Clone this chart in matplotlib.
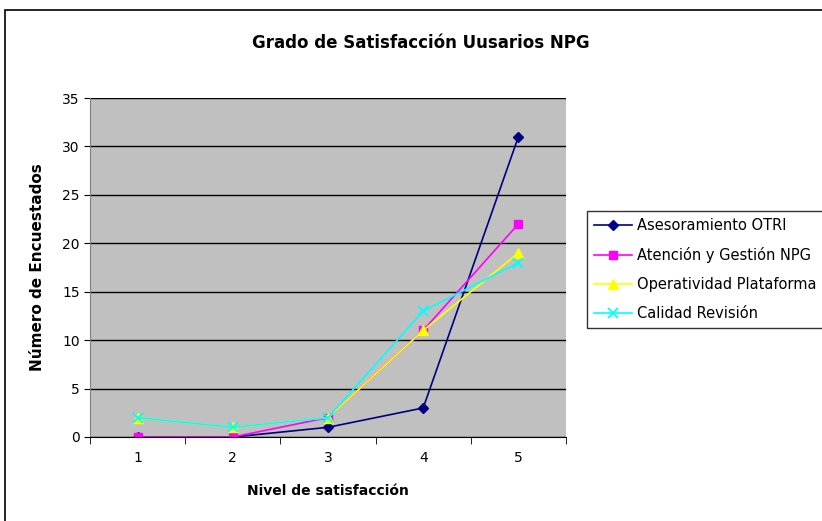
import numpy as np
import matplotlib.pyplot as plt
from matplotlib.patches import Rectangle

# data
niveles = [1, 2, 3, 4, 5]
asesoramiento = [0, 0, 1, 3, 31]
atencion = [0, 0, 2, 11, 22]
operatividad = [2, 1, 2, 11, 19]
calidad = [2, 1, 2, 13, 18]

series_names = ['Asesoramiento OTRI', 'Atención y Gestión NPG',
                'Operatividad Plataforma', 'Calidad Revisión']

W, H = 822, 521
fig = plt.figure(figsize=(W/100, H/100), dpi=100)

# outer chart border
fig.patches.append(Rectangle((5/W, -0.1), 1.2, (H-10)/H + 0.1, transform=fig.transFigure,
                             fill=False, edgecolor='black', linewidth=1.2))

ax = fig.add_axes([90/W, 1-437/H, (566-90)/W, (437-98)/H])
ax.set_facecolor('#c0c0c0')

ax.plot(niveles, asesoramiento, color='#000080', marker='D', markersize=5, lw=1.2)
ax.plot(niveles, atencion, color='#ff00ff', marker='s', markersize=6, lw=1.2)
ax.plot(niveles, operatividad, color='#ffff00', marker='^', markersize=7, lw=1.2)
ax.plot(niveles, calidad, color='#00ffff', marker='x', markersize=7, mew=1.3, lw=1.2)

ax.set_xlim(0.5, 5.5)
ax.set_ylim(0, 35)
ax.set_yticks(np.arange(0, 36, 5))
ax.set_xticks(niveles)
ax.set_xticks(np.arange(0.5, 5.6, 1), minor=True)
ax.tick_params(axis='x', which='major', length=0, pad=10)
ax.tick_params(axis='x', which='minor', length=5, direction='out')
ax.tick_params(axis='y', length=4, direction='out')
ax.tick_params(labelsize=10)
ax.grid(axis='y', color='black', linewidth=1)
ax.set_axisbelow(True)
for s in ['top', 'right']:
    ax.spines[s].set_visible(False)
ax.spines['left'].set_color('#808080')
ax.spines['bottom'].set_color('black')

ax.set_xlabel('Nivel de satisfacción', fontsize=10, fontweight='bold', labelpad=14)
ax.set_ylabel('Número de Encuestados', fontsize=11, fontweight='bold', labelpad=12)

fig.text(421/W, 1-43/H, 'Grado de Satisfacción Uusarios NPG', ha='center', va='center',
         fontsize=12, fontweight='bold')

leg = fig.legend(ax.get_lines(), series_names, loc='upper left',
                 bbox_to_anchor=(587/W, 1-211/H), fontsize=10.5, frameon=True,
                 fancybox=False, edgecolor='black', handlelength=2.6,
                 borderpad=0.5, labelspacing=0.95, handletextpad=0.3, borderaxespad=0)
leg.get_frame().set_linewidth(1)

fig.savefig('out.png', dpi=100)
